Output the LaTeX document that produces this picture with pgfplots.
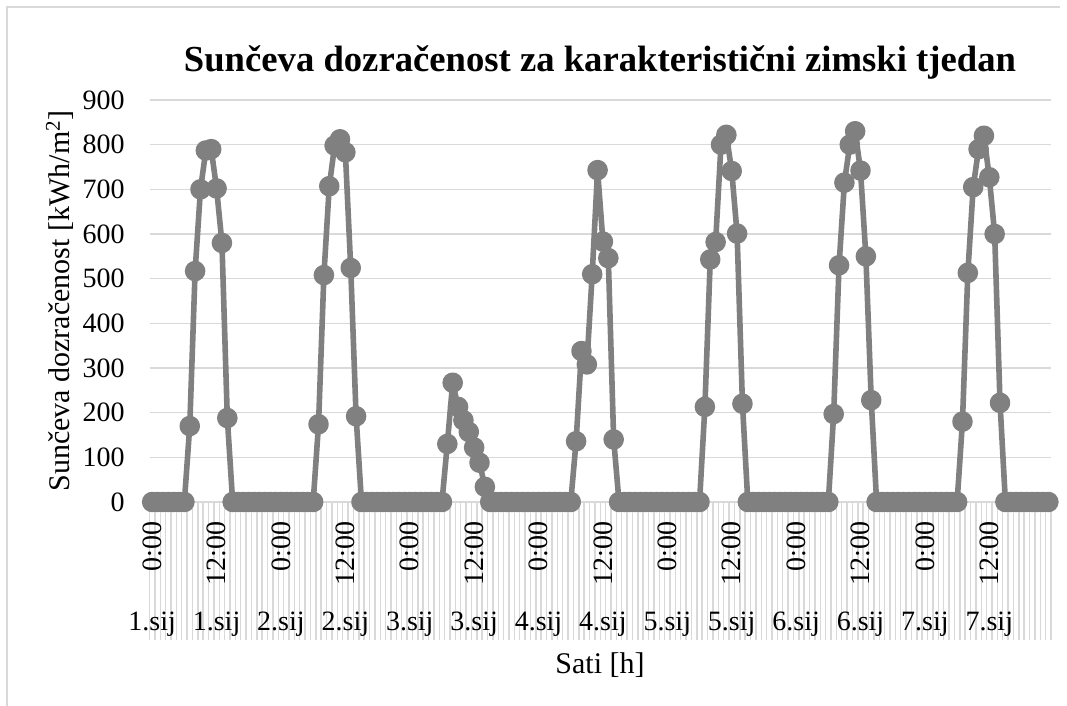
\documentclass[border=0pt]{standalone}
\usepackage{fontspec}
\setmainfont{Liberation Serif}
\usepackage{graphicx}
\usepackage{pgfplots}
\pgfplotsset{compat=1.18}
\definecolor{linegray}{RGB}{128,128,128}
\definecolor{gridgray}{RGB}{217,217,217}
\begin{document}
\begin{tikzpicture}
\path[use as bounding box] (0,0) rectangle (800.25pt,529.5pt);
\draw[gridgray, line width=0.8pt] (5.25pt,0) -- (5.25pt,524.25pt) -- (795pt,524.25pt);
\begin{axis}[
  at={(112.125pt,153pt)}, anchor=south west,
  scale only axis, width=676.125pt, height=301.5pt,
  xmin=-0.5, xmax=167.5, ymin=0, ymax=900,
  clip=false,
  axis x line*=bottom, axis y line*=left,
  x axis line style={draw=gridgray, line width=1pt},
  y axis line style={draw=none},
  ytick={0,100,...,900},
  ymajorgrids, grid style={gridgray, line width=1pt},
  xtick={0,12,...,156},
  xticklabels={\rotatebox{90}{0:00},\rotatebox{90}{12:00},\rotatebox{90}{0:00},\rotatebox{90}{12:00},\rotatebox{90}{0:00},\rotatebox{90}{12:00},\rotatebox{90}{0:00},\rotatebox{90}{12:00},\rotatebox{90}{0:00},\rotatebox{90}{12:00},\rotatebox{90}{0:00},\rotatebox{90}{12:00},\rotatebox{90}{0:00},\rotatebox{90}{12:00}},
  extra x ticks={0,12,...,156},
  extra x tick labels={1.sij,1.sij,2.sij,2.sij,3.sij,3.sij,4.sij,4.sij,5.sij,5.sij,6.sij,6.sij,7.sij,7.sij},
  extra x tick style={grid=none, xticklabel style={anchor=base, yshift=-82pt}},
  minor xtick={-0.5,0.5,...,167.5},
  major tick length=0pt,
  minor tick length=103.5pt,
  tick align=outside,
  minor tick style={gridgray, line width=1.1pt},
  major tick style={draw=none},
  tick label style={font=\fontsize{21}{25}\selectfont},
  xticklabel style={anchor=north, inner sep=0pt, yshift=-14.25pt},
  yticklabel style={anchor=east, inner sep=0pt, xshift=-18.4pt},
  /pgf/number format/assume math mode=true,
]
\addplot[linegray, line width=4.2pt, line join=round, mark=*, mark size=5.6pt,
  mark options={fill=linegray, draw=none}] coordinates {
(0,0)(1,0)(2,0)(3,0)(4,0)(5,0)(6,0)(7,170)(8,517)(9,700)(10,787)(11,790)(12,702)(13,580)(14,188)(15,0)(16,0)(17,0)(18,0)(19,0)(20,0)(21,0)(22,0)(23,0)
(24,0)(25,0)(26,0)(27,0)(28,0)(29,0)(30,0)(31,174)(32,508)(33,707)(34,798)(35,812)(36,783)(37,524)(38,192)(39,0)(40,0)(41,0)(42,0)(43,0)(44,0)(45,0)(46,0)(47,0)
(48,0)(49,0)(50,0)(51,0)(52,0)(53,0)(54,0)(55,130)(56,267)(57,213)(58,183)(59,157)(60,122)(61,88)(62,34)(63,0)(64,0)(65,0)(66,0)(67,0)(68,0)(69,0)(70,0)(71,0)
(72,0)(73,0)(74,0)(75,0)(76,0)(77,0)(78,0)(79,136)(80,338)(81,308)(82,510)(83,743)(84,583)(85,546)(86,140)(87,0)(88,0)(89,0)(90,0)(91,0)(92,0)(93,0)(94,0)(95,0)
(96,0)(97,0)(98,0)(99,0)(100,0)(101,0)(102,0)(103,213)(104,543)(105,582)(106,800)(107,822)(108,741)(109,601)(110,220)(111,0)(112,0)(113,0)(114,0)(115,0)(116,0)(117,0)(118,0)(119,0)
(120,0)(121,0)(122,0)(123,0)(124,0)(125,0)(126,0)(127,197)(128,530)(129,715)(130,800)(131,830)(132,742)(133,550)(134,228)(135,0)(136,0)(137,0)(138,0)(139,0)(140,0)(141,0)(142,0)(143,0)
(144,0)(145,0)(146,0)(147,0)(148,0)(149,0)(150,0)(151,180)(152,513)(153,705)(154,790)(155,820)(156,727)(157,600)(158,222)(159,0)(160,0)(161,0)(162,0)(163,0)(164,0)(165,0)(166,0)(167,0)
};
\end{axis}
\node[font=\fontsize{27.5}{33}\selectfont\bfseries] at (450pt,483pt) {Sunčeva dozračenost za karakteristični zimski tjedan};
\node[rotate=90, font=\fontsize{22.5}{27}\selectfont] at (45pt,303.75pt) {Sunčeva dozračenost [kWh/m\textsuperscript{2}]};
\node[font=\fontsize{22.5}{27}\selectfont] at (450pt,30.75pt) {Sati [h]};
\end{tikzpicture}
\end{document}
